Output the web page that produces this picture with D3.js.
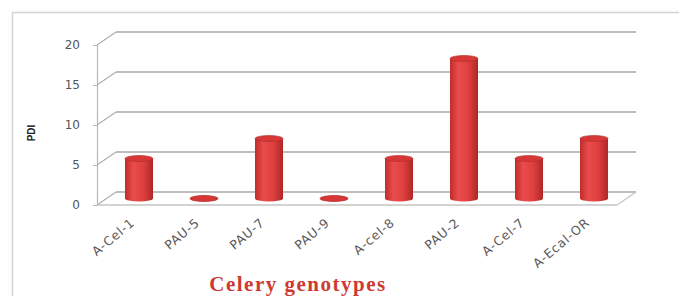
<!DOCTYPE html>
<html>
<head>
<meta charset="utf-8">
<script src="https://cdn.jsdelivr.net/npm/d3@7"></script>
<style>
  body { margin: 0; background: #fff; }
  svg { display: block; }
</style>
</head>
<body>
<div id="dataviz"></div>
<script>
"use strict";

// data
var genotypes = ["A-Cel-1", "PAU-5", "PAU-7", "PAU-9", "A-cel-8", "PAU-2", "A-Cel-7", "A-Ecal-OR"];
var pdiValues = [5, 0, 7.5, 0, 5, 17.5, 5, 7.5];
var yTicks = [0, 5, 10, 15, 20];

var W = 679, H = 296;
var margin = { top: 45, right: 62, bottom: 91, left: 97 };
var width = W - margin.left - margin.right;   // front plane
var height = H - margin.top - margin.bottom;
var depthX = 19, depthY = -13;                // back wall offset

var svg = d3.select("#dataviz").append("svg")
    .attr("width", W)
    .attr("height", H);

// outer frame
svg.append("rect")
    .attr("x", 12.5).attr("y", 12.5)
    .attr("width", 700).attr("height", 320)
    .attr("fill", "none")
    .attr("stroke", "#d4d4d4")
    .attr("stroke-width", 1.5);

var defs = svg.append("defs");
var grad = defs.append("linearGradient").attr("id", "cyl")
    .attr("x1", "0%").attr("x2", "100%").attr("y1", "0%").attr("y2", "0%");
grad.append("stop").attr("offset", "0%").attr("stop-color", "#c02c2c");
grad.append("stop").attr("offset", "30%").attr("stop-color", "#ea4c4c");
grad.append("stop").attr("offset", "65%").attr("stop-color", "#de4040");
grad.append("stop").attr("offset", "100%").attr("stop-color", "#b02626");

var g = svg.append("g")
    .attr("transform", "translate(" + margin.left + "," + margin.top + ")");

var xScale = d3.scaleBand().domain(genotypes).range([0, width]).padding(0);
var yScale = d3.scaleLinear().domain([0, 20]).range([height, 0]);

// back wall gridlines + left wall diagonals
yTicks.forEach(function (t) {
    var y = yScale(t);
    g.append("line")
        .attr("x1", depthX).attr("x2", width + depthX)
        .attr("y1", y + depthY).attr("y2", y + depthY)
        .attr("stroke", "#a8a8a8").attr("stroke-width", 1.5);
    g.append("line")
        .attr("x1", 0).attr("x2", depthX)
        .attr("y1", y).attr("y2", y + depthY)
        .attr("stroke", "#b0b0b0").attr("stroke-width", 1.2);
});

// floor front and right edges
g.append("line")
    .attr("x1", 0).attr("x2", width)
    .attr("y1", height).attr("y2", height)
    .attr("stroke", "#c4c4c4").attr("stroke-width", 1.5);
g.append("line")
    .attr("x1", width).attr("x2", width + depthX)
    .attr("y1", height).attr("y2", height + depthY)
    .attr("stroke", "#c4c4c4").attr("stroke-width", 1.2);

// y axis
var yAxis = d3.axisLeft(yScale).tickValues(yTicks).tickSize(4).tickPadding(13);
g.append("g")
    .attr("class", "yaxis")
    .call(yAxis)
    .call(function (s) {
        s.select(".domain").attr("stroke", "#b8b8b8").attr("stroke-width", 1.2);
        s.selectAll(".tick line").attr("stroke", "#b8b8b8");
        s.selectAll(".tick text")
            .attr("fill", "#555")
            .style("font-family", "'DejaVu Sans', sans-serif")
            .style("font-size", "12px");
    });

// cylinders
var mid = 0.5;
var rx = 14, ry = 3;
var bars = g.selectAll("g.bar").data(genotypes).enter().append("g").attr("class", "bar");
bars.each(function (d, i) {
    var v = pdiValues[i];
    var cx = xScale(d) + xScale.bandwidth() / 2 + depthX * mid;
    var y0 = yScale(0) + depthY * mid;
    var y1 = yScale(v) + depthY * mid;
    var b = d3.select(this);
    b.append("ellipse")
        .attr("cx", cx).attr("cy", y0)
        .attr("rx", rx).attr("ry", ry)
        .attr("fill", "url(#cyl)");
    if (v > 0) {
        b.append("rect")
            .attr("x", cx - rx).attr("y", y1)
            .attr("width", rx * 2).attr("height", y0 - y1)
            .attr("fill", "url(#cyl)");
    }
    b.append("ellipse")
        .attr("cx", cx).attr("cy", y1)
        .attr("rx", rx).attr("ry", ry)
        .attr("fill", "#d63838")
        .attr("stroke", "#b02a2a").attr("stroke-width", 0.6);
});

// category labels
g.selectAll("text.cat").data(genotypes).enter().append("text")
    .attr("class", "cat")
    .attr("transform", function (d) {
        var x = xScale(d) + xScale.bandwidth() / 2 + 6;
        return "translate(" + x + "," + (height + 19) + ")rotate(-40)";
    })
    .attr("text-anchor", "end")
    .attr("fill", "#5a5a5a")
    .style("font-family", "'DejaVu Sans', sans-serif")
    .style("font-size", "12.5px")
    .style("letter-spacing", "0.8px")
    .text(function (d) { return d; });

// axis titles
svg.append("text")
    .attr("transform", "translate(35,133)rotate(-90)")
    .attr("text-anchor", "middle")
    .attr("fill", "#222")
    .style("font-family", "'Liberation Sans', sans-serif")
    .style("font-weight", "bold")
    .style("font-size", "10px")
    .text("PDI");

svg.append("text")
    .attr("x", 298).attr("y", 291)
    .attr("text-anchor", "middle")
    .attr("fill", "#cc3a30")
    .style("font-family", "'Liberation Serif', serif")
    .style("font-weight", "bold")
    .style("font-size", "21px")
    .style("letter-spacing", "1.5px")
    .text("Celery genotypes");
</script>
</body>
</html>
